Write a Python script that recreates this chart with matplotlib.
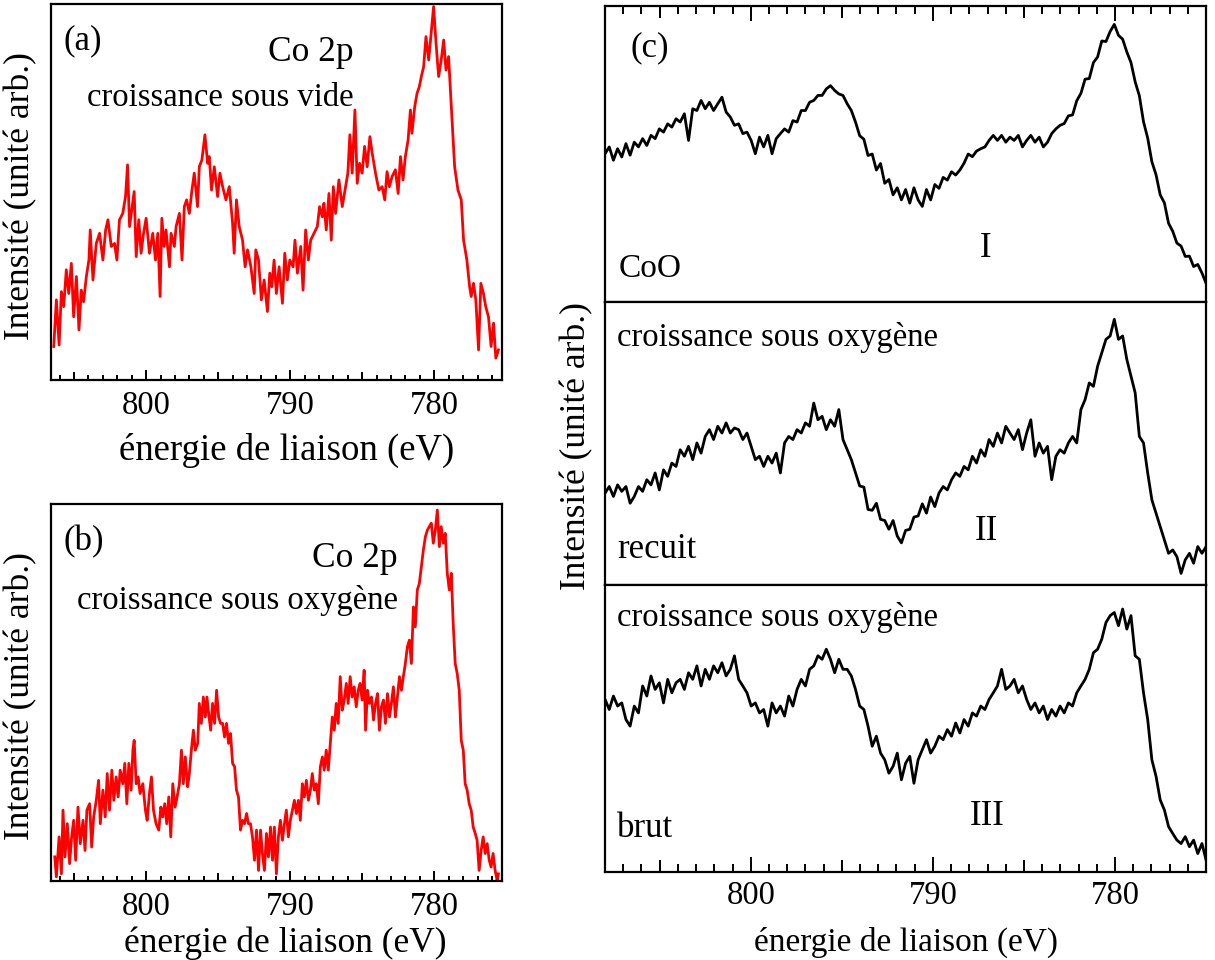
import numpy as np
import matplotlib.pyplot as plt
from matplotlib.ticker import FixedLocator, MultipleLocator, NullLocator

plt.rcParams['font.family'] = ['Liberation Serif', 'DejaVu Serif']

# ---------------- data ----------------
# (a) Co 2p, croissance sous vide
energie_a = [806.41, 806.23, 806.04, 805.88, 805.72, 805.54, 805.37, 805.19, 805.03, 804.84,
             804.66, 804.50, 804.34, 804.15, 803.97, 803.88, 803.69, 803.46, 803.23, 803.00,
             802.81, 802.65, 802.42, 802.19, 802.03, 801.85, 801.62, 801.43, 801.29, 801.15,
             800.97, 800.83, 800.69, 800.51, 800.35, 800.18, 800.00, 799.77, 799.54, 799.35,
             799.19, 799.03, 798.91, 798.75, 798.62, 798.38, 798.27, 798.04, 797.92, 797.69,
             797.51, 797.35, 797.19, 797.00, 796.82, 796.66, 796.43, 796.31, 796.13, 795.92,
             795.73, 795.62, 795.46, 795.27, 795.04, 794.88, 794.69, 794.46, 794.23, 794.00,
             793.89, 793.73, 793.54, 793.31, 793.13, 792.96, 792.73, 792.50, 792.39, 792.20,
             792.00, 791.81, 791.58, 791.42, 791.28, 791.12, 790.96, 790.77, 790.54, 790.38,
             790.20, 790.03, 789.80, 789.67, 789.50, 789.27, 789.11, 788.93, 788.74, 788.58,
             788.35, 788.12, 787.96, 787.77, 787.66, 787.50, 787.31, 787.15, 787.01, 786.85,
             786.62, 786.39, 786.16, 786.00, 785.86, 785.70, 785.51, 785.35, 785.19, 785.01,
             784.84, 784.66, 784.47, 784.31, 784.08, 783.85, 783.62, 783.44, 783.28, 783.12,
             782.93, 782.70, 782.51, 782.35, 782.17, 782.01, 781.82, 781.66, 781.55, 781.36,
             781.20, 781.04, 780.90, 780.74, 780.58, 780.39, 780.21, 780.05, 779.88, 779.70,
             779.52, 779.35, 779.19, 779.01, 778.78, 778.59, 778.36, 778.13, 777.97, 777.74,
             777.55, 777.44, 777.28, 777.12, 776.93, 776.77, 776.59, 776.43, 776.24, 776.06,
             775.89, 775.73, 775.55]
intens_a = [8.9, 21.3, 9.3, 23.5, 19.5, 29.3, 23.0, 31.0, 16.8, 27.5,
            13.3, 23.9, 20.8, 27.5, 31.9, 39.9, 26.6, 36.3, 39.0, 31.9,
            39.9, 42.6, 35.5, 36.3, 31.9, 42.6, 44.3, 48.8, 57.2, 40.8,
            46.1, 50.1, 32.8, 42.6, 33.7, 39.0, 43.0, 33.7, 39.0, 31.9,
            39.0, 22.2, 43.0, 35.5, 39.9, 30.1, 39.0, 35.5, 40.8, 44.3,
            31.9, 46.1, 47.9, 44.3, 50.5, 55.0, 46.1, 56.7, 58.5, 65.2,
            57.6, 59.4, 50.5, 56.7, 48.8, 55.0, 51.4, 47.9, 51.4, 41.7,
            33.7, 47.9, 40.8, 37.2, 30.1, 34.6, 30.1, 23.0, 34.6, 31.9,
            21.3, 26.6, 18.2, 28.4, 24.8, 31.9, 23.0, 30.1, 20.4, 33.7,
            26.6, 31.9, 30.1, 37.2, 28.4, 35.5, 23.9, 39.9, 31.9, 37.2,
            39.0, 40.8, 46.1, 43.4, 47.0, 39.9, 49.6, 37.2, 51.4, 44.3,
            53.2, 46.1, 51.4, 55.0, 65.2, 55.0, 71.8, 52.3, 57.6, 55.0,
            62.1, 56.7, 64.7, 60.3, 55.0, 50.5, 51.4, 47.9, 55.4, 51.4,
            54.1, 55.9, 49.6, 59.4, 53.2, 59.4, 63.8, 71.8, 65.6, 72.7,
            76.2, 78.0, 80.7, 83.3, 91.3, 85.1, 92.6, 99.3, 89.5, 80.7,
            85.1, 90.4, 82.4, 86.0, 70.0, 56.7, 50.5, 47.9, 37.2, 31.9,
            24.8, 22.2, 25.7, 21.3, 8.0, 25.7, 23.0, 19.5, 16.8, 8.9,
            15.1, 5.8, 8.0]

# (b) Co 2p, croissance sous oxygene
energie_b = [806.34, 806.23, 806.04, 805.88, 805.77, 805.63, 805.47, 805.31, 805.17, 805.03,
             804.89, 804.73, 804.57, 804.38, 804.24, 804.11, 803.92, 803.78, 803.64, 803.46,
             803.30, 803.18, 803.00, 802.84, 802.70, 802.54, 802.38, 802.24, 802.08, 801.94,
             801.80, 801.62, 801.48, 801.34, 801.20, 801.04, 800.92, 800.83, 800.69, 800.55,
             800.42, 800.23, 800.05, 799.93, 799.77, 799.63, 799.49, 799.31, 799.12, 798.98,
             798.85, 798.71, 798.57, 798.43, 798.29, 798.15, 797.99, 797.85, 797.69, 797.55,
             797.42, 797.28, 797.12, 797.00, 796.86, 796.72, 796.59, 796.42, 796.31, 796.17,
             796.03, 795.89, 795.78, 795.66, 795.52, 795.39, 795.25, 795.11, 794.97, 794.83,
             794.69, 794.56, 794.42, 794.28, 794.14, 794.00, 793.86, 793.73, 793.59, 793.45,
             793.31, 793.17, 793.03, 792.90, 792.76, 792.62, 792.48, 792.34, 792.20, 792.06,
             791.93, 791.79, 791.65, 791.51, 791.37, 791.23, 791.10, 790.96, 790.82, 790.68,
             790.54, 790.40, 790.27, 790.13, 789.99, 789.85, 789.71, 789.57, 789.43, 789.30,
             789.16, 789.02, 788.88, 788.74, 788.60, 788.47, 788.33, 788.19, 788.05, 787.91,
             787.77, 787.64, 787.50, 787.36, 787.22, 787.08, 786.94, 786.81, 786.67, 786.53,
             786.39, 786.25, 786.11, 785.98, 785.84, 785.70, 785.56, 785.42, 785.28, 785.15,
             785.01, 784.87, 784.77, 784.64, 784.50, 784.36, 784.22, 784.08, 783.94, 783.81,
             783.67, 783.53, 783.39, 783.25, 783.11, 782.98, 782.84, 782.70, 782.56, 782.42,
             782.28, 782.15, 782.01, 781.87, 781.73, 781.59, 781.45, 781.32, 781.18, 781.04,
             780.90, 780.76, 780.62, 780.48, 780.35, 780.21, 780.07, 779.93, 779.79, 779.65,
             779.52, 779.38, 779.24, 779.10, 778.96, 778.82, 778.69, 778.55, 778.41, 778.27,
             778.13, 777.99, 777.86, 777.72, 777.58, 777.44, 777.30, 777.16, 777.03, 776.89,
             776.75, 776.61, 776.47, 776.33, 776.19, 776.06, 775.92, 775.78, 775.64, 775.55]
intens_b = [6.4, 1.1, 11.7, 1.9, 18.8, 6.4, 15.2, 4.6, 11.7, 16.1,
            5.5, 19.6, 9.9, 16.1, 8.1, 18.8, 20.5, 9.0, 17.0, 21.4,
            26.7, 15.2, 24.1, 17.0, 28.5, 18.8, 29.4, 21.4, 27.6, 22.3,
            29.4, 25.8, 31.2, 20.5, 31.2, 24.1, 34.7, 37.3, 25.8, 27.6,
            23.2, 25.8, 18.8, 16.1, 23.2, 27.6, 18.8, 15.2, 13.5, 19.6,
            17.0, 20.5, 15.2, 22.3, 11.7, 25.8, 19.6, 22.3, 25.8, 34.7,
            25.8, 32.9, 25.0, 28.5, 34.7, 40.0, 34.7, 36.5, 47.1, 41.8,
            48.8, 43.5, 48.8, 44.4, 40.0, 47.1, 41.8, 50.6, 43.5, 41.8,
            41.8, 38.2, 41.8, 36.5, 39.1, 31.2, 30.3, 24.1, 22.3, 13.5,
            16.1, 15.2, 17.9, 15.2, 15.2, 11.7, 5.5, 13.5, 2.8, 13.5,
            7.3, 2.8, 12.6, 6.4, 14.3, 5.5, 14.3, 1.9, 11.7, 16.1,
            10.8, 15.2, 18.8, 11.7, 16.1, 18.8, 21.4, 17.9, 21.4, 16.1,
            25.8, 22.3, 26.7, 21.4, 24.1, 28.5, 24.1, 25.8, 20.5, 30.3,
            32.9, 29.4, 34.7, 29.4, 36.5, 43.5, 40.0, 47.1, 41.8, 54.2,
            45.3, 48.0, 52.4, 47.1, 54.2, 48.8, 51.5, 46.2, 50.6, 52.4,
            48.0, 55.9, 40.0, 50.6, 47.1, 48.8, 42.7, 47.1, 49.7, 40.0,
            46.2, 48.0, 41.8, 49.7, 43.5, 47.1, 51.5, 43.5, 48.8, 54.2,
            50.6, 54.2, 57.7, 62.1, 63.9, 57.7, 72.7, 67.4, 77.2, 78.9,
            83.4, 87.8, 91.3, 93.1, 94.0, 94.9, 89.6, 93.1, 98.4, 88.7,
            94.0, 89.6, 92.2, 81.6, 77.2, 81.6, 68.3, 57.7, 55.0, 50.6,
            37.3, 34.7, 25.8, 24.1, 20.5, 18.8, 14.3, 12.6, 10.8, 2.8,
            8.1, 11.7, 7.3, 9.9, 5.5, 3.7, 7.3, 2.8, 0.2, 1.9]

# (c) three spectra on a common grid from 808 eV to 775 eV
intens_CoO = [50.1, 52.4, 47.9, 51.8, 49.0, 53.5, 49.6, 54.0, 52.4, 55.2,
              52.9, 56.3, 55.2, 58.5, 57.4, 60.2, 59.1, 61.9, 60.8, 63.6,
              54.6, 65.3, 64.7, 68.1, 65.3, 67.5, 64.7, 67.0, 69.2, 64.2,
              62.5, 59.7, 60.2, 56.9, 57.4, 54.6, 50.1, 55.7, 52.4, 56.3,
              50.1, 55.2, 56.9, 58.5, 57.4, 61.3, 60.8, 64.7, 64.7, 67.5,
              68.1, 69.8, 69.8, 72.0, 73.1, 71.5, 70.3, 69.8, 67.0, 64.7,
              60.8, 56.2, 55.0, 49.5, 50.0, 44.6, 46.8, 40.1, 41.4, 36.2,
              38.6, 34.5, 38.0, 33.4, 38.6, 34.5, 32.3, 38.0, 34.5, 39.7,
              38.4, 42.1, 41.2, 44.0, 42.9, 44.6, 46.9, 50.0, 49.1, 51.0,
              51.8, 52.4, 54.6, 56.3, 54.6, 56.3, 54.0, 55.7, 54.6, 56.3,
              52.4, 54.6, 56.3, 54.0, 55.7, 52.4, 54.0, 56.9, 58.5, 59.7,
              60.3, 62.9, 63.2, 68.0, 70.5, 75.3, 75.5, 80.9, 82.8, 88.2,
              88.0, 91.4, 93.8, 90.1, 88.8, 84.5, 80.9, 74.4, 69.7, 60.9,
              55.4, 47.4, 43.0, 36.2, 33.5, 26.6, 23.9, 19.9, 18.9, 15.4,
              15.5, 12.0, 12.7, 9.8, 6.3]
intens_recuit = [32.5, 34.8, 31.3, 35.4, 33.1, 34.8, 28.9, 31.3, 34.8, 33.1,
                 37.2, 35.4, 39.6, 33.6, 40.7, 38.4, 43.1, 41.9, 47.8, 45.5,
                 49.0, 44.3, 50.2, 46.6, 52.5, 54.9, 51.4, 56.1, 53.7, 57.3,
                 53.7, 55.5, 54.9, 51.4, 53.7, 49.0, 44.3, 45.5, 41.9, 45.5,
                 43.1, 46.6, 39.6, 50.2, 52.5, 51.4, 54.9, 53.7, 57.3, 56.1,
                 64.3, 58.4, 59.6, 54.9, 58.4, 56.1, 62.0, 51.4, 47.8, 44.3,
                 39.6, 35.0, 34.6, 26.7, 26.4, 28.9, 23.2, 22.8, 19.7, 22.8,
                 17.3, 14.9, 19.3, 19.7, 24.0, 24.4, 28.7, 25.4, 31.1, 27.7,
                 32.5, 34.8, 33.6, 37.2, 39.6, 38.4, 41.9, 40.7, 45.5, 43.1,
                 47.8, 45.5, 51.4, 49.0, 53.7, 50.2, 56.1, 53.7, 51.4, 54.9,
                 47.8, 53.7, 58.4, 45.5, 50.2, 46.6, 49.0, 37.2, 45.5, 47.8,
                 46.6, 50.2, 52.5, 50.2, 62.0, 65.5, 71.4, 70.2, 77.3, 82.1,
                 86.8, 88.0, 93.9, 86.8, 88.0, 79.7, 73.8, 67.9, 52.5, 50.2,
                 39.6, 30.1, 25.4, 20.7, 15.9, 11.2, 12.4, 10.0, 4.1, 8.9,
                 11.2, 7.7, 13.6, 11.2, 13.6]
intens_brut = [60.1, 56.6, 61.3, 57.8, 58.9, 53.1, 50.8, 57.8, 55.4, 64.8,
               61.3, 68.3, 63.6, 65.9, 58.9, 67.1, 62.4, 65.9, 67.1, 63.6,
               69.4, 67.1, 71.8, 64.8, 70.6, 67.1, 71.8, 69.4, 72.9, 68.3,
               70.6, 75.3, 67.1, 64.8, 62.4, 57.8, 58.9, 55.4, 56.6, 50.8,
               58.9, 55.4, 57.8, 54.3, 61.3, 57.8, 63.6, 67.1, 64.8, 70.6,
               71.8, 75.3, 74.1, 77.6, 74.1, 69.4, 74.1, 70.6, 70.6, 68.3,
               63.6, 57.8, 56.6, 50.8, 43.8, 47.3, 41.4, 39.1, 34.4, 36.8,
               41.4, 32.1, 37.9, 40.3, 30.9, 39.1, 42.6, 46.1, 41.4, 43.8,
               47.3, 46.1, 49.6, 47.3, 51.9, 48.4, 53.1, 50.8, 55.4, 54.3,
               57.8, 56.6, 60.1, 62.4, 64.8, 70.6, 63.6, 64.8, 67.1, 62.4,
               64.8, 60.1, 56.6, 58.9, 55.4, 57.8, 53.1, 56.6, 54.3, 57.8,
               55.4, 58.9, 57.8, 62.4, 64.8, 67.1, 70.6, 76.4, 77.6, 81.1,
               86.9, 89.3, 90.4, 85.8, 91.6, 84.6, 89.3, 75.3, 74.1, 62.4,
               53.1, 39.1, 33.3, 25.1, 21.6, 15.8, 13.4, 11.1, 9.9, 12.3,
               8.8, 11.1, 6.4, 9.9, 4.1]
energie_c = np.linspace(808.0, 775.0, len(intens_CoO))

ticks_maj = [800, 790, 780]
ticks_mid = [805, 795, 785, 775]
ylab = 'Intensité (unité arb.)'
xlab = 'énergie de liaison (eV)'

fig = plt.figure(figsize=(12.15, 9.6), dpi=100)


def habille(ax, xlim, cote, longs, pad):
    # cote: 'bottom', 'top' or None for the tick side
    ax.set_xlim(*xlim)
    ax.set_ylim(0, 100)
    ax.set_yticks([])
    for s in ax.spines.values():
        s.set_linewidth(1.6)
    ax.xaxis.set_major_locator(FixedLocator(ticks_maj))
    ax.xaxis.set_minor_locator(MultipleLocator(1))
    if cote is None:
        ax.tick_params(axis='x', which='both', bottom=False, top=False,
                       labelbottom=False, labeltop=False)
        return
    bas = cote == 'bottom'
    ax.tick_params(axis='x', which='both', direction='in', width=1.4,
                   bottom=bas, top=not bas, labelbottom=bas, labeltop=False,
                   labelsize=23.5, pad=pad)
    ax.tick_params(axis='x', which='major', length=longs[0])
    ax.tick_params(axis='x', which='minor', length=longs[2])
    sec = ax.secondary_xaxis(cote)
    sec.set_xticks(ticks_mid)
    sec.xaxis.set_minor_locator(NullLocator())
    sec.tick_params(axis='x', direction='in', length=longs[1], width=1.4,
                    labelbottom=False, labeltop=False)
    for s in sec.spines.values():
        s.set_visible(False)


# ---- (a)
ax_a = fig.add_axes([0.042, 0.6042, 0.3712, 0.3917])
ax_a.plot(energie_a, intens_a, color='#ff0000', lw=2.0)
habille(ax_a, (806.6, 775.3), 'bottom', (7, 5.5, 3.8), 7.5)
ax_a.set_xlabel(xlab, fontsize=26.5)
ax_a.xaxis.set_label_coords(0.523, -0.14)
ax_a.set_ylabel(ylab, fontsize=25.5)
ax_a.yaxis.set_label_coords(-0.03, 0.49)
ax_a.text(0.027, 0.945, '(a)', transform=ax_a.transAxes, fontsize=25, va='top')
ax_a.text(0.67, 0.915, 'Co 2p', transform=ax_a.transAxes, fontsize=25.5,
          va='top', ha='right')
ax_a.text(0.67, 0.79, 'croissance sous vide', transform=ax_a.transAxes,
          fontsize=23.5, va='top', ha='right')

# ---- (b)
ax_b = fig.add_axes([0.042, 0.0823, 0.3712, 0.3927])
ax_b.plot(energie_b, intens_b, color='#ff0000', lw=2.0)
habille(ax_b, (806.6, 775.3), 'bottom', (7, 5.5, 3.8), 7.5)
ax_b.set_xlabel(xlab, fontsize=25.5)
ax_b.xaxis.set_label_coords(0.519, -0.12)
ax_b.set_ylabel(ylab, fontsize=25.5)
ax_b.yaxis.set_label_coords(-0.03, 0.49)
ax_b.text(0.027, 0.945, '(b)', transform=ax_b.transAxes, fontsize=25, va='top')
ax_b.text(0.769, 0.9, 'Co 2p', transform=ax_b.transAxes, fontsize=25.5,
          va='top', ha='right')
ax_b.text(0.769, 0.785, 'croissance sous oxygène', transform=ax_b.transAxes,
          fontsize=23.5, va='top', ha='right')

# ---- (c)
ax_c1 = fig.add_axes([0.498, 0.6854, 0.4947, 0.3083])
ax_c2 = fig.add_axes([0.498, 0.3906, 0.4947, 0.2948])
ax_c3 = fig.add_axes([0.498, 0.0917, 0.4947, 0.2990])
for ax, y in zip((ax_c1, ax_c2, ax_c3), (intens_CoO, intens_recuit, intens_brut)):
    ax.plot(energie_c, y, color='black', lw=2.0)
habille(ax_c1, (808, 775), 'top', (11, 8.5, 5.8), 6)
habille(ax_c2, (808, 775), None, None, 6)
habille(ax_c3, (808, 775), 'bottom', (11, 8.5, 5.8), 6)
ax_c3.set_xlabel(xlab, fontsize=24)
ax_c3.xaxis.set_label_coords(0.5, -0.19)
fig.text(0.475, 0.535, ylab, rotation=90, fontsize=25.5, ha='center', va='center')

ax_c1.text(0.042, 0.915, '(c)', transform=ax_c1.transAxes, fontsize=25, va='top')
ax_c1.text(0.022, 0.084, 'CoO', transform=ax_c1.transAxes, fontsize=24)
ax_c1.text(0.633, 0.152, 'I', transform=ax_c1.transAxes, fontsize=25, ha='center')
ax_c2.text(0.02, 0.93, 'croissance sous oxygène', transform=ax_c2.transAxes,
           fontsize=23.5, va='top')
ax_c2.text(0.02, 0.095, 'recuit', transform=ax_c2.transAxes, fontsize=25)
ax_c2.text(0.635, 0.159, 'II', transform=ax_c2.transAxes, fontsize=25, ha='center')
ax_c3.text(0.02, 0.94, 'croissance sous oxygène', transform=ax_c3.transAxes,
           fontsize=23.5, va='top')
ax_c3.text(0.02, 0.122, 'brut', transform=ax_c3.transAxes, fontsize=25)
ax_c3.text(0.635, 0.164, 'III', transform=ax_c3.transAxes, fontsize=25, ha='center')

fig.savefig('out.png', dpi=100)
